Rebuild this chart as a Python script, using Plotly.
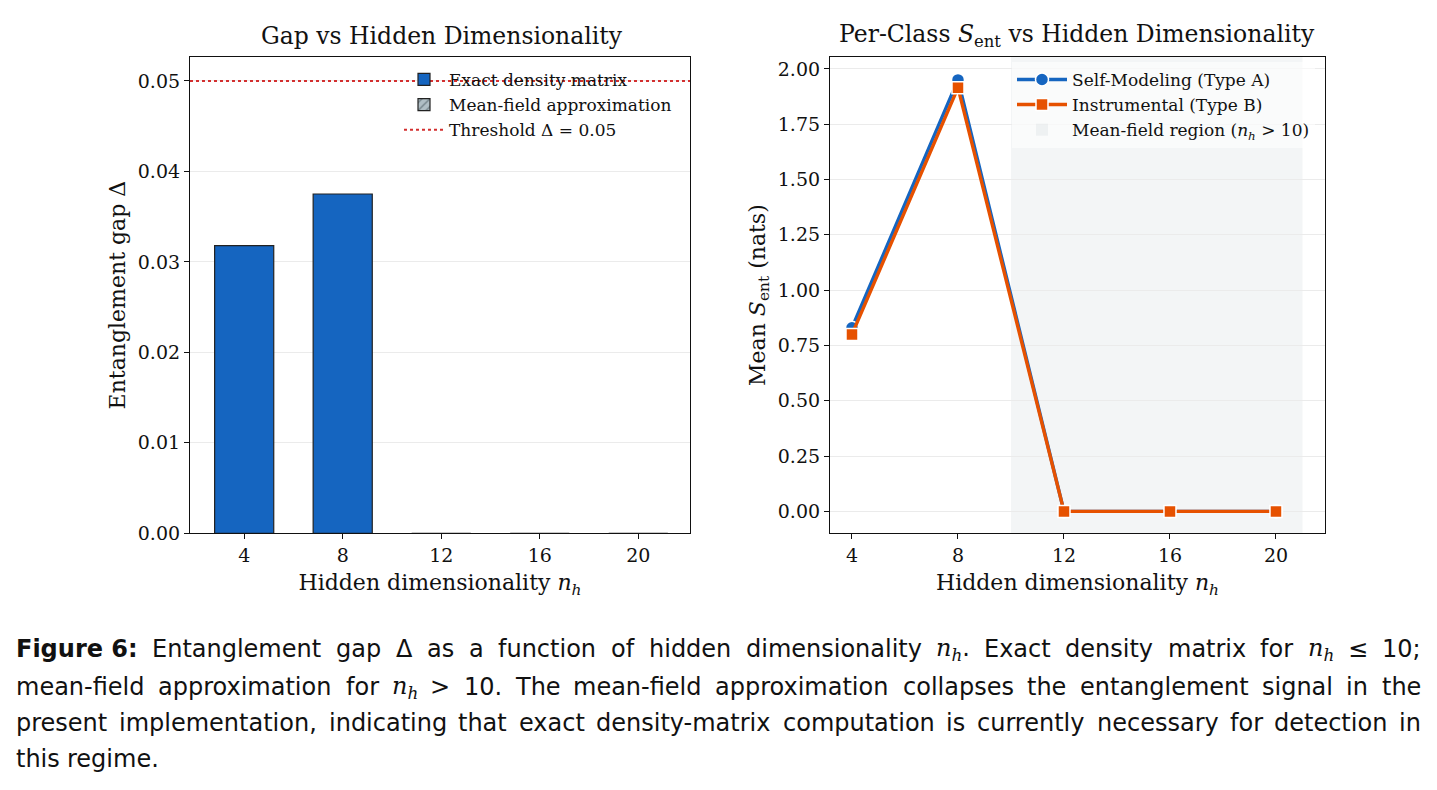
import plotly.graph_objects as go

# ---------------- data ----------------
nh = [4, 8, 12, 16, 20]
exact_nh = [4, 8]
exact_gap = [0.0318, 0.0375]
mf_nh = [12, 16, 20]
mf_gap = [0.0, 0.0, 0.0]
threshold = 0.05

sent_a = [0.83, 1.95, 0.0, 0.0, 0.0]   # Self-Modeling (Type A)
sent_b = [0.80, 1.915, 0.0, 0.0, 0.0]  # Instrumental (Type B)
mf_region = [10, 21]

left_yticks = [0.00, 0.01, 0.02, 0.03, 0.04, 0.05]
right_yticks = [0.00, 0.25, 0.50, 0.75, 1.00, 1.25, 1.50, 1.75, 2.00]

caption_lines = [
    ["Figure 6:", "Entanglement", "gap", "Δ", "as", "a", "function", "of", "hidden", "dimensionality",
     "{nh}.", "Exact", "density", "matrix", "for", "{nh}", "≤", "10;"],
    ["mean-field", "approximation", "for", "{nh}", ">", "10.", "The", "mean-field", "approximation",
     "collapses", "the", "entanglement", "signal", "in", "the"],
    ["present", "implementation,", "indicating", "that", "exact", "density-matrix", "computation",
     "is", "currently", "necessary", "for", "detection", "in"],
    ["this", "regime."],
]

BLUE = "#1565C0"
ORANGE = "#E65100"
GREY = "#B0BEC5"
RED = "#D32F2F"
SERIF = "DejaVu Serif"
SANS = "DejaVu Sans"

W, H = 1437, 790
HEFF = 780  # effective rendered height observed
def px_x(p): return p / W
def px_y(p): return 1 - p / HEFF

fig = go.Figure()

fig.add_trace(go.Bar(x=exact_nh, y=exact_gap, width=2.4, name="Exact density matrix",
                     marker=dict(color=BLUE, line=dict(color="#222", width=1.2)),
                     xaxis="x", yaxis="y", legend="legend"))
fig.add_trace(go.Bar(x=mf_nh, y=mf_gap, width=2.4, name="Mean-field approximation",
                     marker=dict(color=GREY, line=dict(color="#222", width=1.2),
                                 pattern=dict(shape="/", fgcolor="#37474F", size=7, solidity=0.25)),
                     xaxis="x", yaxis="y", legend="legend"))

fig.add_trace(go.Scatter(x=nh, y=sent_a, mode="lines+markers", name="Self-Modeling (Type A)",
                         line=dict(color=BLUE, width=3.4),
                         marker=dict(symbol="circle", size=13, color=BLUE, line=dict(color="white", width=1.5)),
                         xaxis="x2", yaxis="y2", legend="legend2"))
fig.add_trace(go.Scatter(x=nh, y=sent_b, mode="lines+markers", name="Instrumental (Type B)",
                         line=dict(color=ORANGE, width=3.4),
                         marker=dict(symbol="square", size=12, color=ORANGE, line=dict(color="white", width=1.5)),
                         xaxis="x2", yaxis="y2", legend="legend2"))

fig.add_shape(type="line", xref="x domain", yref="y", x0=0, x1=1, y0=threshold, y1=threshold,
              line=dict(color=RED, width=2, dash="dot"), layer="above",
              showlegend=True, name="Threshold Δ = 0.05", legend="legend")
fig.add_shape(type="rect", xref="x2", yref="y2 domain", x0=mf_region[0], x1=mf_region[1], y0=0, y1=1,
              fillcolor="rgba(176,190,197,0.15)", line=dict(width=0), layer="below",
              showlegend=True, name="Mean-field region (<i>n<sub>h</sub></i> > 10)", legend="legend2")

ydom = [px_y(534), px_y(57)]
axis_common = dict(showline=True, mirror=True, linecolor="#111", linewidth=1.2,
                   ticks="outside", ticklen=5, tickcolor="#111",
                   tickfont=dict(family=SERIF, size=19, color="#111"), zeroline=False)

fig.update_layout(
    width=W, height=H, margin=dict(l=0, r=0, t=0, b=0),
    paper_bgcolor="white", plot_bgcolor="white",
    font=dict(family=SERIF, color="#111"),
    barmode="overlay",
    xaxis=dict(domain=[px_x(190), px_x(690)], range=[1.8, 22.1], tickvals=nh, showgrid=False,
               title=dict(text="Hidden dimensionality <i>n<sub>h</sub></i>", font=dict(size=22), standoff=9),
               anchor="y", **axis_common),
    yaxis=dict(domain=ydom, range=[0, 0.05265], tickvals=left_yticks, tickformat=".2f",
               showgrid=True, gridcolor="#ebebeb", gridwidth=1,
               title=dict(text="Entanglement gap Δ", font=dict(size=22), standoff=6),
               anchor="x", **axis_common),
    xaxis2=dict(domain=[px_x(830), px_x(1325)], range=[3.17, 21.85], tickvals=nh, showgrid=False,
                title=dict(text="Hidden dimensionality <i>n<sub>h</sub></i>", font=dict(size=22), standoff=9),
                anchor="y2", **axis_common),
    yaxis2=dict(domain=ydom, range=[-0.099, 2.054], tickvals=right_yticks, tickformat=".2f",
                showgrid=True, gridcolor="#ebebeb", gridwidth=1,
                title=dict(text="Mean <i>S</i><sub>ent</sub> (nats)", font=dict(size=22), standoff=6),
                anchor="x2", **axis_common),
    legend=dict(x=px_x(399), y=px_y(62), xanchor="left", yanchor="top",
                bgcolor="rgba(0,0,0,0)", font=dict(family=SERIF, size=17, color="#111"),
                tracegroupgap=0, itemwidth=40),
    legend2=dict(x=px_x(1012), y=px_y(62), xanchor="left", yanchor="top",
                 bgcolor="rgba(255,255,255,0.6)", font=dict(family=SERIF, size=17, color="#111"),
                 tracegroupgap=0, itemwidth=50),
)

# subplot titles
fig.add_annotation(text="Gap vs Hidden Dimensionality", xref="paper", yref="paper",
                   x=px_x(442), y=px_y(36), xanchor="center", yanchor="middle", showarrow=False,
                   font=dict(family=SERIF, size=23.5, color="#111"))
fig.add_annotation(text="Per-Class <i>S</i><sub>ent</sub> vs Hidden Dimensionality", xref="paper", yref="paper",
                   x=px_x(1077), y=px_y(36), xanchor="center", yanchor="middle", showarrow=False,
                   font=dict(family=SERIF, size=23.5, color="#111"))

# ---------------- caption: justified text (word placement from approximate DejaVu Sans metrics) ----------------
CAP_SIZE = 24
EM = {" ": .318, ",": .318, "-": .361, ".": .318, ":": .337, ";": .337, ">": .838, "≤": .838,
      "Δ": .684, "E": .632, "F": .575, "T": .611,
      "a": .613, "b": .635, "c": .550, "d": .635, "e": .615, "f": .352, "g": .635, "h": .634,
      "i": .278, "k": .579, "l": .278, "m": .974, "n": .634, "o": .612, "p": .635, "r": .411,
      "s": .521, "t": .392, "u": .634, "v": .592, "w": .818, "x": .592, "y": .592}
NH_W = 25.0
NH_HTML = "<span style='font-family:DejaVu Serif'><i>n<sub>h</sub></i></span>"

def word_width(w):
    if w == "Figure 6:":
        return 121.7
    n = w.count("{nh}")
    rest = w.replace("{nh}", "")
    total = n * NH_W
    for ch in rest:
        total += EM.get(ch, 0.636) * CAP_SIZE
    return total

def word_html(w):
    if w == "Figure 6:":
        return "<b>Figure 6:</b>"
    return w.replace("{nh}", NH_HTML)

cap_left, cap_right = 15, 1420
cap_y = [650, 688, 724, 760]
for li, (words, yy) in enumerate(zip(caption_lines, cap_y)):
    widths = [word_width(w) for w in words]
    last = li == len(caption_lines) - 1
    if last or len(words) < 2:
        gap = EM[" "] * CAP_SIZE
    else:
        gap = (cap_right - cap_left - sum(widths)) / (len(words) - 1)
    xx = cap_left
    for w, wd in zip(words, widths):
        fig.add_annotation(text=word_html(w), xref="paper", yref="paper", x=px_x(xx), y=px_y(yy),
                           xanchor="left", yanchor="middle", showarrow=False, borderpad=0,
                           font=dict(family=SANS, size=CAP_SIZE, color="#111"))
        xx += wd + gap

fig.write_html("out.html")
